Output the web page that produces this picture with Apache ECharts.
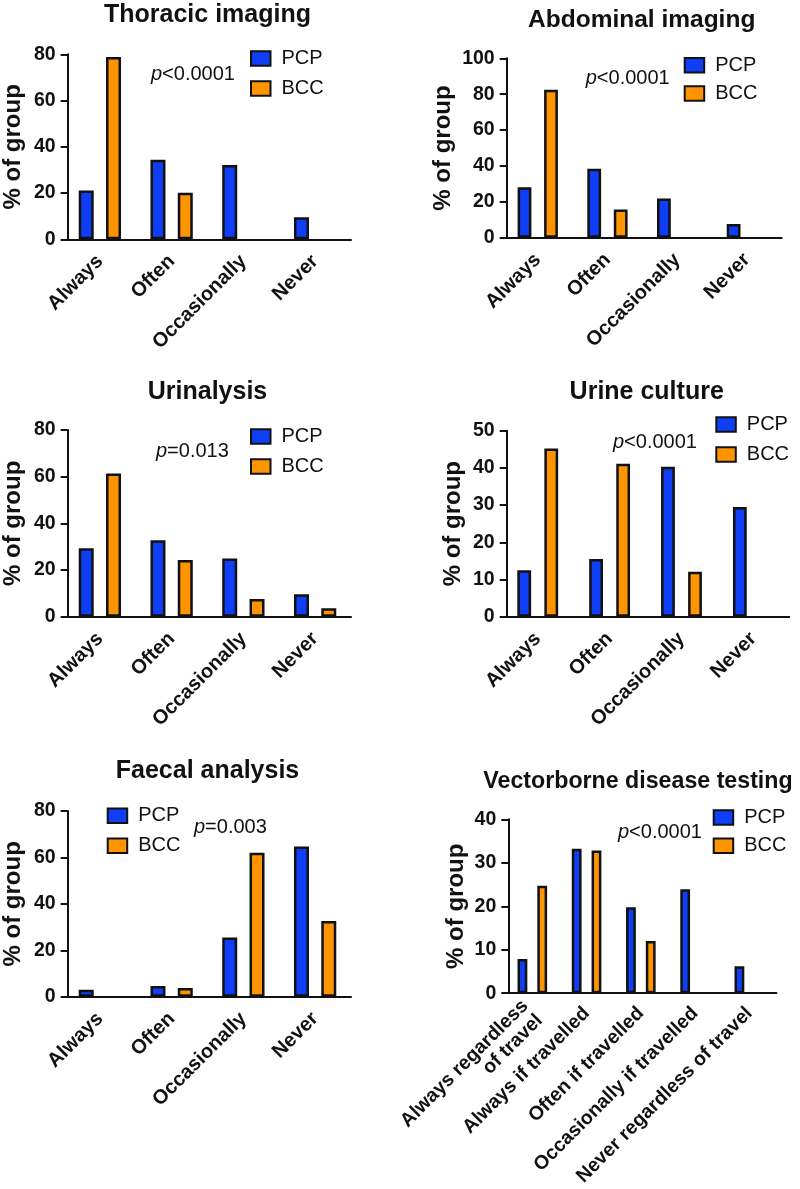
<!DOCTYPE html>
<html>
<head>
<meta charset="utf-8">
<script src="https://cdn.jsdelivr.net/npm/echarts@6/dist/echarts.min.js"></script>
<style>html,body{margin:0;padding:0;background:#fff}#chart{width:800px;height:1189px}</style>
</head>
<body>
<div id="chart"></div>
<script>
// ---- data ----
const freqCategories = ['Always', 'Often', 'Occasionally', 'Never'];
const vectorCategories = ['Always regardless\nof travel', 'Always if travelled', 'Often if travelled', 'Occasionally if travelled', 'Never regardless of travel'];
const seriesNames = ['PCP', 'BCC'];

const panelTitles = ['Thoracic imaging', 'Abdominal imaging', 'Urinalysis', 'Urine culture', 'Faecal analysis', 'Vectorborne disease testing'];
const pValueTexts = ['<0.0001', '<0.0001', '=0.013', '<0.0001', '=0.003', '<0.0001'];
const yMaxValues = [80, 100, 80, 50, 80, 40];
const yIntervals = [20, 20, 20, 10, 20, 10];

const thoracicPCP = [21.1, 34.4, 32.1, 9.5];
const thoracicBCC = [78.8, 20.1, 0, 0];
const abdominalPCP = [28.1, 38.4, 21.8, 7.7];
const abdominalBCC = [82.4, 15.7, 0, 0];
const urinalysisPCP = [29.3, 32.8, 24.9, 9.6];
const urinalysisBCC = [61.4, 24.3, 7.6, 3.6];
const urineCulturePCP = [12.5, 15.5, 40.3, 29.5];
const urineCultureBCC = [45.2, 41.1, 12.1, 0];
const faecalPCP = [3.0, 4.6, 25.5, 64.7];
const faecalBCC = [0, 3.8, 62.0, 32.6];
const vectorPCP = [7.9, 33.2, 19.8, 23.9, 6.2];
const vectorBCC = [24.7, 32.8, 12.0, 0, 0];

// ---- layout ----
const FONT = '"Liberation Sans", Arial, Helvetica, sans-serif';
const BLUE = '#0f3ef7';
const ORANGE = '#fe9400';
const INK = '#111111';
const BORDER = 2.5;

const panels = [
  {cats: freqCategories, pcp: thoracicPCP, bcc: thoracicBCC,
   grid: {left: 64, top: 54.3, width: 287, height: 185}, yOff: -3.6, nameGap: 42,
   barW: 15, barGap: '82%', title: [207.5, 15.5, 25], p: [151, 74.7], legend: [250, 48.5, 10], xFont: 20, xMargin: 19},
  {cats: freqCategories, pcp: abdominalPCP, bcc: abdominalBCC,
   grid: {left: 502.9, top: 58.3, width: 278.8, height: 179.4}, yOff: -3.8, nameGap: 51.7,
   barW: 13.8, barGap: '92%', title: [641.7, 20, 24.5], p: [585.7, 78], legend: [683.7, 55.2, 8.3], xFont: 20, xMargin: 19},
  {cats: freqCategories, pcp: urinalysisPCP, bcc: urinalysisBCC,
   grid: {left: 64, top: 430, width: 287, height: 186.7}, yOff: -3.6, nameGap: 42,
   barW: 15, barGap: '82%', title: [207.5, 391.8, 25], p: [156, 451.3], legend: [250, 426.5, 10], xFont: 20, xMargin: 19},
  {cats: freqCategories, pcp: urineCulturePCP, bcc: urineCultureBCC,
   grid: {left: 501.8, top: 430.7, width: 287.5, height: 186}, yOff: -4.9, nameGap: 41.7,
   barW: 13.8, barGap: '96%', title: [646.7, 391.8, 25], p: [613, 442.3], legend: [715.3, 414.5, 10], xFont: 20, xMargin: 19},
  {cats: freqCategories, pcp: faecalPCP, bcc: faecalBCC,
   grid: {left: 64, top: 811, width: 287, height: 185.7}, yOff: -3.6, nameGap: 42,
   barW: 15, barGap: '82%', title: [207.5, 771.5, 25], p: [194, 827], legend: [106.7, 805.8, 10], xFont: 20, xMargin: 19},
  {cats: vectorCategories, pcp: vectorPCP, bcc: vectorBCC,
   grid: {left: 505.2, top: 819.3, width: 271.25, height: 176.4}, yOff: -3.1, nameGap: 40,
   barW: 9.8, barGap: '102%', title: [638, 782, 23.2], p: [618, 832.3], legend: [712.7, 807.5, 8.3], xFont: 19.5, xMargin: 17}
];

const grids = [], xAxes = [], yAxes = [], series = [], legends = [], graphics = [];

panels.forEach((pn, i) => {
  grids.push(Object.assign({containLabel: false}, pn.grid));
  xAxes.push({
    type: 'category', gridIndex: i, data: pn.cats,
    axisLine: {lineStyle: {color: INK, width: 2}},
    axisTick: {alignWithLabel: true, length: 7, lineStyle: {color: INK, width: 2}},
    axisLabel: {rotate: 45, interval: 0, margin: pn.xMargin, color: INK, fontFamily: FONT,
                fontWeight: 'bold', fontSize: pn.xFont, lineHeight: pn.xFont + 1}
  });
  yAxes.push({
    type: 'value', gridIndex: i, min: 0, max: yMaxValues[i], interval: yIntervals[i],
    offset: pn.yOff,
    name: '% of group', nameLocation: 'middle', nameRotate: 90, nameGap: pn.nameGap,
    nameTextStyle: {color: INK, fontFamily: FONT, fontWeight: 'bold', fontSize: 24},
    axisLine: {show: true, lineStyle: {color: INK, width: 2}},
    axisTick: {show: true, length: 7, lineStyle: {color: INK, width: 2}},
    splitLine: {show: false},
    axisLabel: {margin: 12, color: INK, fontFamily: FONT, fontWeight: 'bold', fontSize: 19.5}
  });
  [[pn.pcp, BLUE], [pn.bcc, ORANGE]].forEach(([vals, col], k) => {
    series.push({
      type: 'bar', name: seriesNames[k], xAxisIndex: i, yAxisIndex: i,
      data: vals.map(v => v === 0 ? {value: v, itemStyle: {borderWidth: 0, opacity: 0}} : v),
      barWidth: pn.barW, barGap: pn.barGap,
      itemStyle: {color: col, borderColor: INK, borderWidth: BORDER},
      silent: true
    });
  });
  legends.push({
    orient: 'vertical', left: pn.legend[0], top: pn.legend[1], itemGap: pn.legend[2], padding: 0,
    itemWidth: 19.5, itemHeight: 14.5, icon: 'rect', selectedMode: false,
    data: seriesNames,
    textStyle: {color: INK, fontFamily: FONT, fontSize: 20, lineHeight: 20, padding: [0, 0, 0, 6]}
  });
  graphics.push({
    type: 'text', x: pn.title[0], y: pn.title[1],
    style: {text: panelTitles[i], fill: INK, font: 'bold ' + pn.title[2] + 'px ' + FONT, textAlign: 'center', textVerticalAlign: 'middle'}
  });
  graphics.push({
    type: 'text', x: pn.p[0], y: pn.p[1],
    style: {text: '{i|p}{n|' + pValueTexts[i] + '}', textAlign: 'left', textVerticalAlign: 'middle',
      rich: {i: {fontStyle: 'italic', fontSize: 20, fontFamily: FONT, fill: INK, color: INK},
             n: {fontSize: 20, fontFamily: FONT, fill: INK, color: INK}}}
  });
});

const chart = echarts.init(document.getElementById('chart'), null, {renderer: 'canvas'});
chart.setOption({
  animation: false,
  backgroundColor: '#ffffff',
  grid: grids, xAxis: xAxes, yAxis: yAxes, series: series, legend: legends, graphic: graphics
});
</script>
</body>
</html>
